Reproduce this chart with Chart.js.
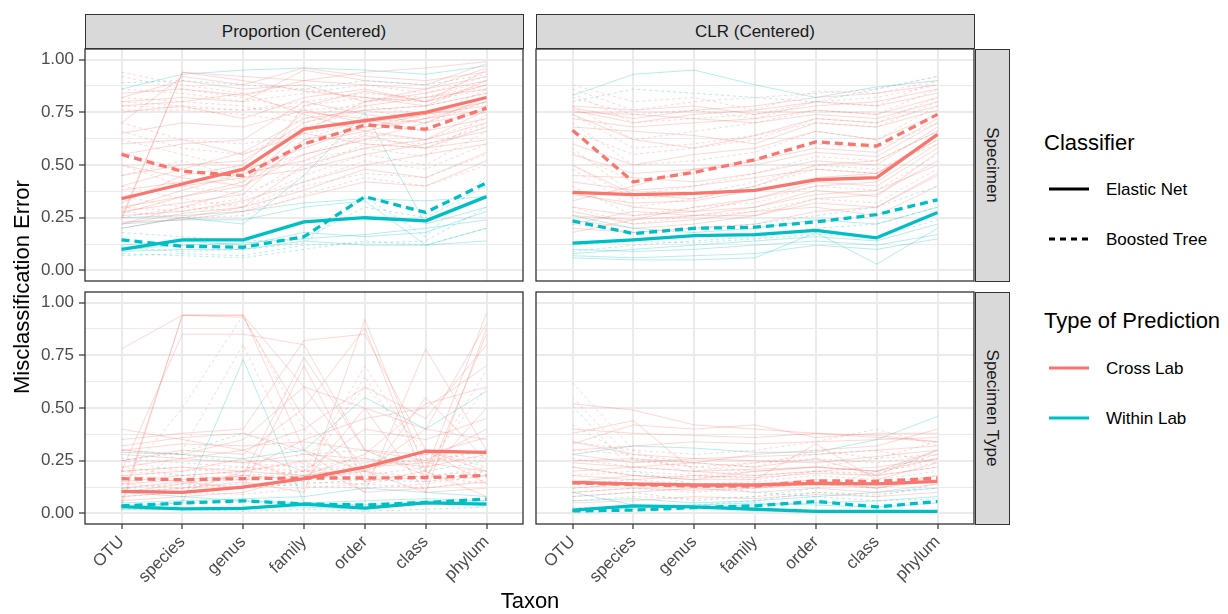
<!DOCTYPE html>
<html>
<head>
<meta charset="utf-8">
<script src="https://cdn.jsdelivr.net/npm/chart.js@4.4.1/dist/chart.umd.min.js"></script>
<style>
  body { margin: 0; background: #fff; font-family: "Liberation Sans", Arial, Helvetica, sans-serif; }
  #wrap { position: relative; width: 1228px; height: 614px; overflow: hidden; }
  canvas { position: absolute; }
  .strip { position: absolute; background: #D9D9D9; border: 1.2px solid #333; box-sizing: border-box; }
  .txt { position: absolute; line-height: 1; white-space: nowrap; transform: translate(-50%, -50%); }
  .strip-txt { font-size: 17px; color: #1A1A1A; }
  .title { font-size: 22px; color: #000; }
  .leg-title { position: absolute; font-size: 22px; line-height: 1; transform: translateY(-50%); white-space: nowrap; }
  .leg-item { position: absolute; font-size: 17px; line-height: 1; transform: translateY(-50%); white-space: nowrap; color: #000; }
  svg.key { position: absolute; }
</style>
</head>
<body>
<div id="wrap">
  <div class="strip" style="left:85px;top:14px;width:439px;height:35px"></div>
  <div class="strip" style="left:536px;top:14px;width:439px;height:35px"></div>
  <div class="strip" style="left:975px;top:49px;width:35px;height:233px"></div>
  <div class="strip" style="left:975px;top:292px;width:35px;height:233px"></div>
  <div class="txt strip-txt" style="left:304px;top:31px">Proportion (Centered)</div>
  <div class="txt strip-txt" style="left:755px;top:31px">CLR (Centered)</div>
  <div class="txt strip-txt" style="left:992px;top:165px;transform:translate(-50%,-50%) rotate(90deg)">Specimen</div>
  <div class="txt strip-txt" style="left:992px;top:408px;transform:translate(-50%,-50%) rotate(90deg)">Specimen Type</div>

  <canvas id="c1" width="497" height="236" style="left:28px;top:47px"></canvas>
  <canvas id="c2" width="442" height="236" style="left:534px;top:47px"></canvas>
  <canvas id="c3" width="497" height="300" style="left:28px;top:290px"></canvas>
  <canvas id="c4" width="442" height="300" style="left:534px;top:290px"></canvas>

  <div class="txt title" style="left:22px;top:287px;transform:translate(-50%,-50%) rotate(-90deg)">Misclassification Error</div>
  <div class="txt title" style="left:530px;top:601px">Taxon</div>

  <div class="leg-title" style="left:1044px;top:143px">Classifier</div>
  <svg class="key" style="left:1047px;top:183px" width="44" height="12"><line x1="2" y1="6" x2="42" y2="6" stroke="#000" stroke-width="3"/></svg>
  <div class="leg-item" style="left:1106px;top:189px">Elastic Net</div>
  <svg class="key" style="left:1047px;top:233px" width="44" height="12"><line x1="2" y1="6" x2="42" y2="6" stroke="#000" stroke-width="3" stroke-dasharray="6,5"/></svg>
  <div class="leg-item" style="left:1106px;top:239px">Boosted Tree</div>
  <div class="leg-title" style="left:1044px;top:321px">Type of Prediction</div>
  <svg class="key" style="left:1047px;top:362px" width="44" height="12"><line x1="2" y1="6" x2="42" y2="6" stroke="#F8766D" stroke-width="3"/></svg>
  <div class="leg-item" style="left:1106px;top:368px">Cross Lab</div>
  <svg class="key" style="left:1047px;top:412px" width="44" height="12"><line x1="2" y1="6" x2="42" y2="6" stroke="#00BFC4" stroke-width="3"/></svg>
  <div class="leg-item" style="left:1106px;top:418px">Within Lab</div>
</div>
<script>
const taxa = ['OTU', 'species', 'genus', 'family', 'order', 'class', 'phylum'];
const yBreaks = [0, 0.25, 0.5, 0.75, 1];
const yMinorBreaks = [0.125, 0.375, 0.625, 0.875];

// Proportion (Centered) / Specimen
const propSpecCrossNet = [0.34, 0.41, 0.48, 0.67, 0.71, 0.75, 0.82];
const propSpecCrossTree = [0.55, 0.47, 0.45, 0.60, 0.69, 0.67, 0.77];
const propSpecWithinNet = [0.10, 0.145, 0.145, 0.23, 0.25, 0.235, 0.35];
const propSpecWithinTree = [0.145, 0.115, 0.11, 0.16, 0.35, 0.275, 0.415];
const propSpecCrossNetRuns = [
  [0.25, 0.94, 0.92, 0.90, 0.88, 0.86, 0.92], [0.22, 0.30, 0.38, 0.78, 0.85, 0.80, 0.95],
  [0.80, 0.82, 0.80, 0.95, 0.90, 0.88, 0.98], [0.30, 0.35, 0.40, 0.55, 0.62, 0.70, 0.75],
  [0.20, 0.25, 0.30, 0.50, 0.58, 0.62, 0.70], [0.82, 0.90, 0.86, 0.88, 0.80, 0.84, 0.90],
  [0.45, 0.50, 0.52, 0.70, 0.78, 0.82, 0.86], [0.28, 0.32, 0.36, 0.62, 0.68, 0.72, 0.80],
  [0.60, 0.62, 0.55, 0.65, 0.60, 0.58, 0.62], [0.24, 0.94, 0.90, 0.85, 0.82, 0.78, 0.84],
  [0.35, 0.40, 0.44, 0.48, 0.55, 0.60, 0.66], [0.75, 0.78, 0.72, 0.82, 0.86, 0.80, 0.88],
  [0.38, 0.42, 0.47, 0.58, 0.68, 0.74, 0.78], [0.26, 0.28, 0.33, 0.42, 0.50, 0.55, 0.60],
  [0.70, 0.92, 0.88, 0.96, 0.92, 0.90, 0.94], [0.32, 0.45, 0.50, 0.75, 0.72, 0.66, 0.72],
  [0.55, 0.60, 0.62, 0.80, 0.74, 0.70, 0.82], [0.22, 0.27, 0.30, 0.38, 0.48, 0.44, 0.56],
  [0.27, 0.35, 0.42, 0.66, 0.80, 0.86, 0.96], [0.65, 0.70, 0.68, 0.76, 0.70, 0.74, 0.80],
  [0.23, 0.24, 0.28, 0.35, 0.42, 0.40, 0.52], [0.50, 0.44, 0.40, 0.60, 0.66, 0.62, 0.76],
  [0.84, 0.86, 0.83, 0.90, 0.94, 0.96, 0.99], [0.29, 0.38, 0.46, 0.52, 0.64, 0.58, 0.68],
  [0.40, 0.48, 0.56, 0.72, 0.76, 0.78, 0.90], [0.78, 0.80, 0.84, 0.74, 0.66, 0.72, 0.76]
];
const propSpecCrossTreeRuns = [
  [0.94, 0.88, 0.84, 0.86, 0.82, 0.80, 0.86], [0.80, 0.78, 0.76, 0.80, 0.84, 0.82, 0.90],
  [0.76, 0.76, 0.74, 0.70, 0.76, 0.78, 0.84], [0.50, 0.40, 0.36, 0.48, 0.60, 0.58, 0.70],
  [0.30, 0.28, 0.32, 0.45, 0.55, 0.50, 0.66], [0.82, 0.80, 0.78, 0.72, 0.80, 0.82, 0.88],
  [0.62, 0.55, 0.48, 0.55, 0.65, 0.62, 0.72], [0.40, 0.34, 0.30, 0.42, 0.52, 0.48, 0.60],
  [0.25, 0.30, 0.28, 0.40, 0.46, 0.44, 0.55], [0.86, 0.84, 0.80, 0.84, 0.88, 0.84, 0.92],
  [0.70, 0.62, 0.60, 0.65, 0.70, 0.66, 0.78], [0.45, 0.52, 0.44, 0.55, 0.62, 0.60, 0.68],
  [0.78, 0.77, 0.76, 0.78, 0.82, 0.80, 0.88], [0.35, 0.30, 0.34, 0.52, 0.58, 0.54, 0.74],
  [0.56, 0.48, 0.42, 0.62, 0.72, 0.70, 0.80], [0.92, 0.86, 0.82, 0.76, 0.78, 0.74, 0.82],
  [0.28, 0.25, 0.26, 0.36, 0.44, 0.40, 0.50], [0.66, 0.58, 0.55, 0.68, 0.76, 0.72, 0.86]
];
const propSpecWithinNetRuns = [
  [0.86, 0.93, 0.95, 0.96, 0.95, 0.93, 0.97], [0.20, 0.25, 0.22, 0.45, 0.75, 0.22, 0.30],
  [0.12, 0.14, 0.12, 0.18, 0.16, 0.18, 0.28], [0.25, 0.26, 0.28, 0.32, 0.34, 0.33, 0.35],
  [0.09, 0.10, 0.10, 0.14, 0.12, 0.12, 0.14], [0.22, 0.24, 0.24, 0.30, 0.33, 0.12, 0.20],
  [0.10, 0.12, 0.13, 0.15, 0.17, 0.20, 0.24]
];
const propSpecWithinTreeRuns = [
  [0.08, 0.07, 0.06, 0.10, 0.14, 0.12, 0.20], [0.18, 0.16, 0.14, 0.15, 0.30, 0.25, 0.40],
  [0.07, 0.08, 0.07, 0.12, 0.13, 0.14, 0.30], [0.11, 0.09, 0.10, 0.13, 0.35, 0.16, 0.45],
  [0.89, 0.90, 0.88, 0.86, 0.90, 0.88, 0.93]
];

// CLR (Centered) / Specimen
const clrSpecCrossNet = [0.37, 0.36, 0.365, 0.38, 0.43, 0.44, 0.645];
const clrSpecCrossTree = [0.665, 0.42, 0.465, 0.525, 0.61, 0.59, 0.74];
const clrSpecWithinNet = [0.13, 0.145, 0.165, 0.17, 0.19, 0.155, 0.275];
const clrSpecWithinTree = [0.235, 0.175, 0.20, 0.205, 0.23, 0.265, 0.335];
const clrSpecCrossNetRuns = [
  [0.75, 0.74, 0.72, 0.70, 0.74, 0.72, 0.80], [0.76, 0.70, 0.74, 0.76, 0.80, 0.78, 0.84],
  [0.74, 0.62, 0.58, 0.64, 0.72, 0.70, 0.78], [0.50, 0.36, 0.34, 0.40, 0.50, 0.52, 0.66],
  [0.37, 0.30, 0.28, 0.34, 0.40, 0.42, 0.60], [0.24, 0.20, 0.22, 0.26, 0.34, 0.36, 0.52],
  [0.30, 0.26, 0.28, 0.30, 0.38, 0.35, 0.56], [0.60, 0.50, 0.55, 0.58, 0.66, 0.62, 0.74],
  [0.42, 0.38, 0.40, 0.44, 0.48, 0.46, 0.62], [0.20, 0.18, 0.20, 0.22, 0.28, 0.30, 0.45],
  [0.68, 0.66, 0.64, 0.60, 0.70, 0.68, 0.76], [0.33, 0.40, 0.48, 0.50, 0.56, 0.54, 0.70],
  [0.18, 0.24, 0.30, 0.34, 0.42, 0.40, 0.58], [0.77, 0.72, 0.76, 0.78, 0.82, 0.84, 0.88],
  [0.28, 0.22, 0.24, 0.28, 0.30, 0.26, 0.40], [0.45, 0.44, 0.42, 0.46, 0.52, 0.50, 0.68],
  [0.72, 0.68, 0.70, 0.72, 0.76, 0.74, 0.82], [0.26, 0.24, 0.26, 0.30, 0.36, 0.38, 0.50],
  [0.55, 0.46, 0.48, 0.52, 0.58, 0.56, 0.72], [0.36, 0.32, 0.33, 0.38, 0.44, 0.46, 0.64],
  [0.78, 0.76, 0.78, 0.74, 0.78, 0.80, 0.86], [0.22, 0.28, 0.26, 0.26, 0.32, 0.30, 0.46]
];
const clrSpecCrossTreeRuns = [
  [0.88, 0.80, 0.82, 0.76, 0.85, 0.84, 0.90], [0.82, 0.74, 0.76, 0.72, 0.80, 0.82, 0.88],
  [0.66, 0.55, 0.58, 0.62, 0.72, 0.70, 0.82], [0.56, 0.42, 0.46, 0.52, 0.60, 0.58, 0.70],
  [0.48, 0.30, 0.34, 0.40, 0.48, 0.46, 0.62], [0.40, 0.26, 0.30, 0.32, 0.40, 0.38, 0.55],
  [0.78, 0.62, 0.66, 0.70, 0.76, 0.74, 0.86], [0.86, 0.76, 0.80, 0.82, 0.84, 0.86, 0.92],
  [0.30, 0.22, 0.26, 0.28, 0.34, 0.32, 0.48], [0.70, 0.50, 0.52, 0.56, 0.66, 0.62, 0.78],
  [0.84, 0.70, 0.72, 0.74, 0.80, 0.78, 0.90], [0.58, 0.36, 0.40, 0.46, 0.54, 0.52, 0.66],
  [0.74, 0.58, 0.60, 0.64, 0.70, 0.68, 0.80], [0.50, 0.34, 0.36, 0.42, 0.50, 0.48, 0.60]
];
const clrSpecWithinNetRuns = [
  [0.83, 0.93, 0.95, 0.88, 0.82, 0.87, 0.90], [0.06, 0.05, 0.05, 0.06, 0.18, 0.03, 0.20],
  [0.08, 0.10, 0.12, 0.14, 0.16, 0.14, 0.22], [0.10, 0.09, 0.10, 0.12, 0.14, 0.12, 0.17],
  [0.26, 0.20, 0.18, 0.20, 0.24, 0.22, 0.30], [0.07, 0.06, 0.07, 0.08, 0.12, 0.10, 0.15]
];
const clrSpecWithinTreeRuns = [
  [0.22, 0.18, 0.20, 0.22, 0.26, 0.30, 0.40], [0.80, 0.86, 0.84, 0.82, 0.80, 0.86, 0.92],
  [0.09, 0.12, 0.14, 0.16, 0.20, 0.22, 0.30], [0.12, 0.14, 0.13, 0.15, 0.17, 0.16, 0.24]
];

// Proportion (Centered) / Specimen Type
const propTypeCrossNet = [0.105, 0.10, 0.125, 0.165, 0.22, 0.295, 0.29];
const propTypeCrossTree = [0.165, 0.16, 0.165, 0.168, 0.168, 0.17, 0.18];
const propTypeWithinNet = [0.032, 0.022, 0.024, 0.044, 0.025, 0.05, 0.044];
const propTypeWithinTree = [0.036, 0.049, 0.06, 0.045, 0.04, 0.052, 0.068];
const propTypeCrossNetRuns = [
  [0.05, 0.94, 0.94, 0.30, 0.10, 0.12, 0.15], [0.78, 0.94, 0.94, 0.60, 0.20, 0.10, 0.12],
  [0.03, 0.94, 0.93, 0.45, 0.15, 0.20, 0.08], [0.20, 0.85, 0.85, 0.80, 0.30, 0.25, 0.40],
  [0.35, 0.38, 0.40, 0.82, 0.85, 0.30, 0.20], [0.10, 0.12, 0.15, 0.10, 0.92, 0.20, 0.95],
  [0.25, 0.30, 0.28, 0.50, 0.88, 0.15, 0.85], [0.15, 0.18, 0.20, 0.25, 0.10, 0.78, 0.30],
  [0.30, 0.28, 0.35, 0.60, 0.50, 0.40, 0.90], [0.08, 0.10, 0.20, 0.35, 0.45, 0.50, 0.70],
  [0.40, 0.35, 0.30, 0.20, 0.40, 0.35, 0.45], [0.12, 0.15, 0.12, 0.70, 0.15, 0.55, 0.25],
  [0.28, 0.26, 0.30, 0.40, 0.60, 0.45, 0.80], [0.06, 0.08, 0.10, 0.18, 0.28, 0.52, 0.60],
  [0.18, 0.20, 0.26, 0.15, 0.50, 0.10, 0.88], [0.32, 0.36, 0.38, 0.30, 0.20, 0.40, 0.35],
  [0.10, 0.14, 0.18, 0.74, 0.30, 0.18, 0.50], [0.20, 0.22, 0.20, 0.18, 0.22, 0.24, 0.20],
  [0.14, 0.16, 0.18, 0.16, 0.20, 0.30, 0.14], [0.22, 0.26, 0.24, 0.28, 0.26, 0.22, 0.28],
  [0.30, 0.33, 0.32, 0.34, 0.30, 0.28, 0.36]
];
const propTypeCrossTreeRuns = [
  [0.15, 0.50, 0.94, 0.40, 0.20, 0.15, 0.18], [0.10, 0.30, 0.80, 0.20, 0.70, 0.25, 0.30],
  [0.20, 0.22, 0.18, 0.16, 0.65, 0.20, 0.68], [0.18, 0.15, 0.16, 0.20, 0.18, 0.22, 0.60],
  [0.25, 0.20, 0.22, 0.18, 0.16, 0.18, 0.20], [0.12, 0.14, 0.12, 0.15, 0.14, 0.12, 0.16],
  [0.08, 0.10, 0.09, 0.12, 0.14, 0.18, 0.14], [0.30, 0.28, 0.24, 0.22, 0.26, 0.24, 0.30],
  [0.22, 0.18, 0.20, 0.24, 0.60, 0.30, 0.22], [0.14, 0.12, 0.18, 0.20, 0.22, 0.26, 0.25],
  [0.20, 0.18, 0.16, 0.18, 0.20, 0.17, 0.22], [0.26, 0.24, 0.22, 0.20, 0.24, 0.28, 0.26],
  [0.10, 0.12, 0.14, 0.13, 0.12, 0.14, 0.18]
];
const propTypeWithinNetRuns = [
  [0.03, 0.05, 0.73, 0.05, 0.04, 0.06, 0.05], [0.29, 0.28, 0.26, 0.30, 0.55, 0.40, 0.58],
  [0.02, 0.02, 0.03, 0.03, 0.02, 0.05, 0.04], [0.05, 0.06, 0.07, 0.08, 0.12, 0.10, 0.08],
  [0.10, 0.08, 0.06, 0.05, 0.06, 0.07, 0.06]
];
const propTypeWithinTreeRuns = [
  [0.25, 0.29, 0.38, 0.28, 0.30, 0.20, 0.25], [0.04, 0.05, 0.06, 0.04, 0.03, 0.05, 0.06],
  [0.02, 0.02, 0.01, 0.02, 0.01, 0.02, 0.03], [0.12, 0.10, 0.12, 0.14, 0.16, 0.15, 0.20]
];

// CLR (Centered) / Specimen Type
const clrTypeCrossNet = [0.147, 0.14, 0.135, 0.135, 0.143, 0.14, 0.152];
const clrTypeCrossTree = [0.145, 0.137, 0.13, 0.13, 0.155, 0.152, 0.168];
const clrTypeWithinNet = [0.016, 0.036, 0.031, 0.02, 0.01, 0.01, 0.01];
const clrTypeWithinTree = [0.012, 0.016, 0.028, 0.036, 0.057, 0.031, 0.057];
const clrTypeCrossNetRuns = [
  [0.52, 0.49, 0.42, 0.40, 0.38, 0.36, 0.34], [0.38, 0.44, 0.20, 0.18, 0.20, 0.22, 0.26],
  [0.33, 0.42, 0.40, 0.42, 0.36, 0.38, 0.38], [0.30, 0.32, 0.34, 0.33, 0.34, 0.35, 0.36],
  [0.25, 0.26, 0.24, 0.28, 0.30, 0.32, 0.40], [0.20, 0.22, 0.24, 0.22, 0.26, 0.18, 0.30],
  [0.15, 0.18, 0.16, 0.20, 0.22, 0.20, 0.26], [0.12, 0.14, 0.13, 0.14, 0.16, 0.12, 0.18],
  [0.08, 0.10, 0.12, 0.10, 0.12, 0.10, 0.14], [0.40, 0.38, 0.37, 0.36, 0.38, 0.37, 0.34],
  [0.22, 0.18, 0.16, 0.16, 0.33, 0.16, 0.24], [0.28, 0.24, 0.26, 0.25, 0.24, 0.27, 0.30],
  [0.05, 0.06, 0.08, 0.07, 0.09, 0.08, 0.10], [0.18, 0.16, 0.18, 0.17, 0.19, 0.18, 0.22],
  [0.24, 0.22, 0.20, 0.21, 0.22, 0.20, 0.30], [0.34, 0.28, 0.26, 0.27, 0.28, 0.30, 0.32],
  [0.10, 0.12, 0.11, 0.12, 0.14, 0.12, 0.16]
];
const clrTypeCrossTreeRuns = [
  [0.62, 0.30, 0.18, 0.16, 0.20, 0.18, 0.22], [0.55, 0.25, 0.22, 0.20, 0.22, 0.26, 0.28],
  [0.34, 0.30, 0.28, 0.30, 0.34, 0.40, 0.32], [0.26, 0.22, 0.20, 0.24, 0.26, 0.24, 0.28],
  [0.18, 0.20, 0.18, 0.20, 0.22, 0.20, 0.24], [0.14, 0.16, 0.14, 0.15, 0.18, 0.16, 0.20],
  [0.10, 0.12, 0.10, 0.12, 0.14, 0.12, 0.16], [0.06, 0.08, 0.07, 0.08, 0.10, 0.09, 0.12],
  [0.30, 0.28, 0.24, 0.22, 0.30, 0.26, 0.34], [0.22, 0.18, 0.17, 0.18, 0.20, 0.19, 0.26],
  [0.12, 0.14, 0.13, 0.13, 0.15, 0.14, 0.18], [0.42, 0.26, 0.22, 0.24, 0.28, 0.30, 0.24]
];
const clrTypeWithinNetRuns = [
  [0.28, 0.32, 0.31, 0.29, 0.29, 0.35, 0.46], [0.10, 0.04, 0.03, 0.04, 0.05, 0.06, 0.08],
  [0.02, 0.03, 0.04, 0.05, 0.04, 0.03, 0.05], [0.06, 0.07, 0.05, 0.06, 0.08, 0.10, 0.12]
];
const clrTypeWithinTreeRuns = [
  [0.51, 0.20, 0.14, 0.10, 0.08, 0.06, 0.07], [0.03, 0.02, 0.04, 0.06, 0.10, 0.08, 0.14],
  [0.08, 0.10, 0.06, 0.08, 0.12, 0.20, 0.28]
];

const red = '#F8766D';
const teal = '#00BFC4';
const redFaint = 'rgba(248,118,109,0.32)';
const tealFaint = 'rgba(0,191,196,0.32)';
const fontFamily = '"Liberation Sans", Arial, Helvetica, sans-serif';

function pts(vals) {
  return vals.map((v, i) => ({ x: i, y: v }));
}

function buildSets(cn, ct, wn, wt, cnRuns, ctRuns, wnRuns, wtRuns) {
  const sets = [];
  const faint = (runs, color, dash) => runs.forEach(r => sets.push({
    data: pts(r), borderColor: color, borderWidth: 0.9, borderDash: dash, order: 1
  }));
  faint(cnRuns, redFaint, []);
  faint(ctRuns, redFaint, [3, 3]);
  faint(wnRuns, tealFaint, []);
  faint(wtRuns, tealFaint, [3, 3]);
  const bold = (vals, color, dash) => sets.push({
    data: pts(vals), borderColor: color, borderWidth: 3.3, borderDash: dash, order: 0
  });
  bold(cn, red, []);
  bold(ct, red, [8, 5]);
  bold(wn, teal, []);
  bold(wt, teal, [8, 5]);
  return sets;
}

const isMajor = v => yBreaks.some(b => Math.abs(b - v) < 1e-6);

const panelBorder = {
  id: 'panelBorder',
  afterDraw(chart) {
    const a = chart.chartArea;
    const ctx = chart.ctx;
    ctx.save();
    ctx.strokeStyle = '#333333';
    ctx.lineWidth = 1.3;
    ctx.strokeRect(a.left, a.top, a.right - a.left, a.bottom - a.top);
    ctx.restore();
  }
};

function makePanel(id, sets, showY, showX, padding) {
  new Chart(document.getElementById(id), {
    type: 'line',
    data: { datasets: sets },
    options: {
      responsive: false,
      animation: false,
      events: [],
      devicePixelRatio: 1,
      layout: { padding: padding },
      elements: {
        point: { radius: 0 },
        line: { tension: 0, borderJoinStyle: 'round', fill: false }
      },
      plugins: { legend: { display: false }, tooltip: { enabled: false } },
      scales: {
        x: {
          type: 'linear', min: -0.6, max: 6.6,
          afterBuildTicks: s => { s.ticks = taxa.map((t, i) => ({ value: i })); },
          afterFit: s => { s.height = showX ? 66 : 0; s.paddingLeft = 0; s.paddingRight = 0; },
          border: { display: false },
          grid: { color: '#EBEBEB', lineWidth: 2, drawTicks: showX, tickLength: 5, tickWidth: 1.2, tickColor: '#333333' },
          ticks: {
            display: showX, autoSkip: false, minRotation: 45, maxRotation: 45, padding: 3,
            color: '#4D4D4D', font: { family: fontFamily, size: 17 },
            callback: v => taxa[v]
          }
        },
        y: {
          type: 'linear', min: -0.05, max: 1.05,
          afterBuildTicks: s => { s.ticks = yBreaks.concat(yMinorBreaks).sort((a, b) => a - b).map(v => ({ value: v })); },
          afterFit: s => { s.width = showY ? 57 : 0; s.paddingTop = 0; s.paddingBottom = 0; },
          border: { display: false },
          grid: {
            color: '#EBEBEB',
            lineWidth: c => (c.tick && isMajor(c.tick.value)) ? 2 : 1,
            drawTicks: showY, tickLength: 6, tickWidth: 1.2,
            tickColor: c => (c.tick && isMajor(c.tick.value)) ? '#333333' : 'rgba(0,0,0,0)'
          },
          ticks: {
            display: showY, autoSkip: false, padding: 5,
            color: '#4D4D4D', font: { family: fontFamily, size: 17 },
            callback: v => isMajor(v) ? v.toFixed(2) : ''
          }
        }
      }
    },
    plugins: [panelBorder]
  });
}

makePanel('c1', buildSets(propSpecCrossNet, propSpecCrossTree, propSpecWithinNet, propSpecWithinTree,
  propSpecCrossNetRuns, propSpecCrossTreeRuns, propSpecWithinNetRuns, propSpecWithinTreeRuns),
  true, false, { top: 2, right: 2, bottom: 2, left: 0 });
makePanel('c2', buildSets(clrSpecCrossNet, clrSpecCrossTree, clrSpecWithinNet, clrSpecWithinTree,
  clrSpecCrossNetRuns, clrSpecCrossTreeRuns, clrSpecWithinNetRuns, clrSpecWithinTreeRuns),
  false, false, { top: 2, right: 2, bottom: 2, left: 2 });
makePanel('c3', buildSets(propTypeCrossNet, propTypeCrossTree, propTypeWithinNet, propTypeWithinTree,
  propTypeCrossNetRuns, propTypeCrossTreeRuns, propTypeWithinNetRuns, propTypeWithinTreeRuns),
  true, true, { top: 2, right: 2, bottom: 0, left: 0 });
makePanel('c4', buildSets(clrTypeCrossNet, clrTypeCrossTree, clrTypeWithinNet, clrTypeWithinTree,
  clrTypeCrossNetRuns, clrTypeCrossTreeRuns, clrTypeWithinNetRuns, clrTypeWithinTreeRuns),
  false, true, { top: 2, right: 2, bottom: 0, left: 2 });
</script>
</body>
</html>
